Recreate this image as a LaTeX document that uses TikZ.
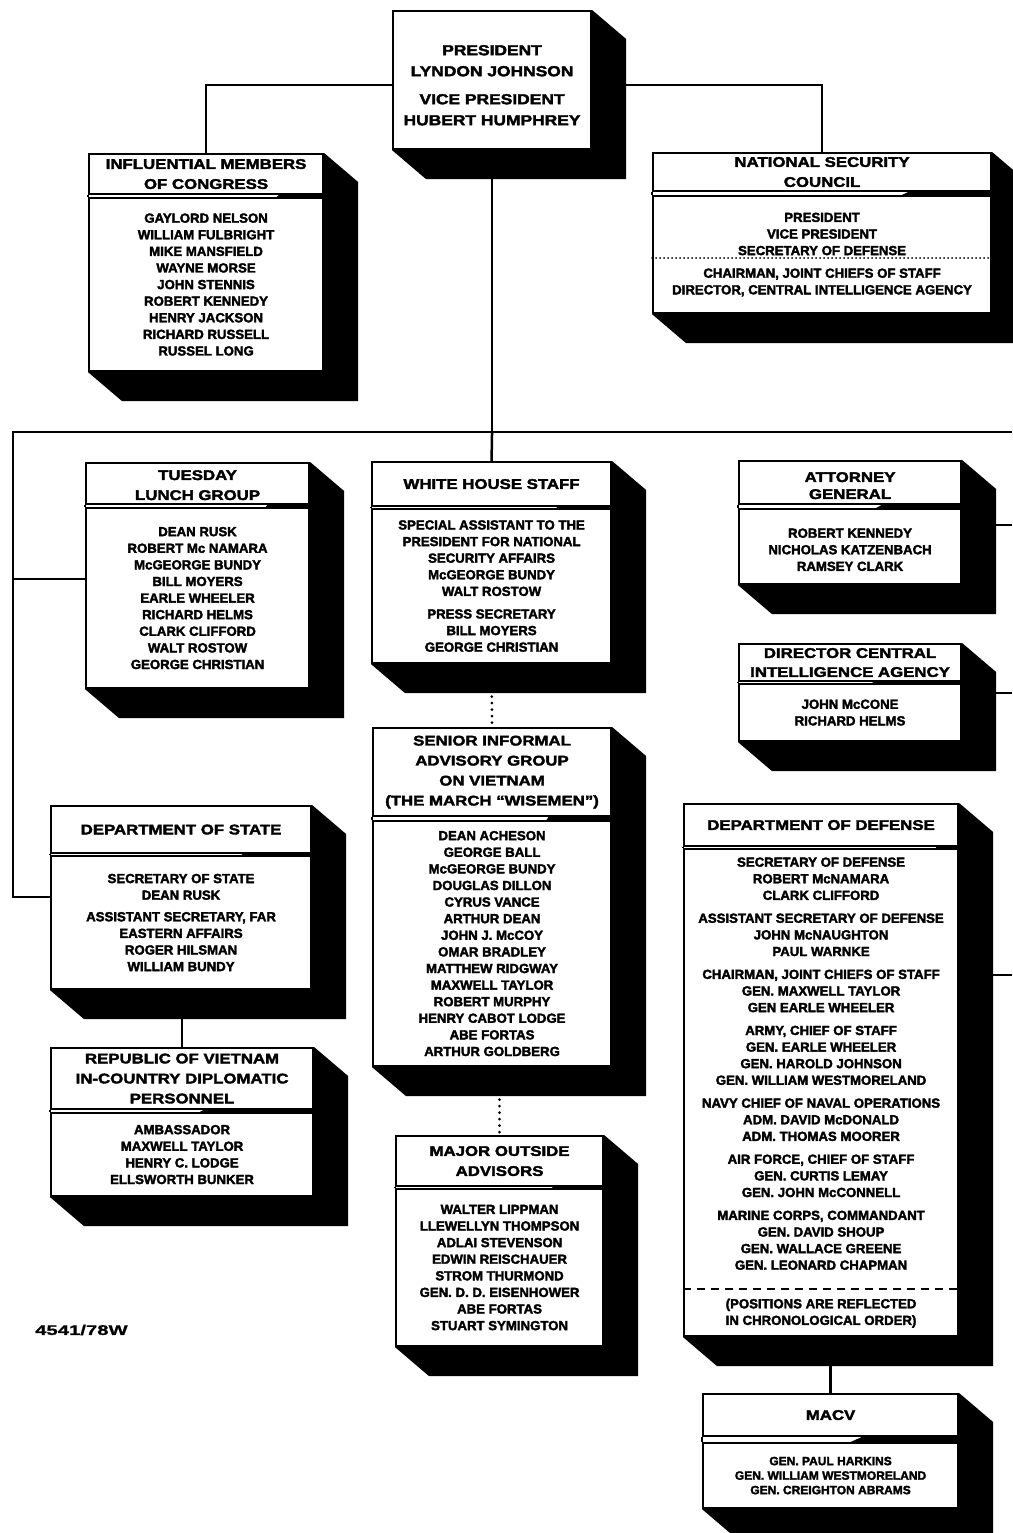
\documentclass[tikz,border=0pt]{standalone}
\usepackage{fontspec}
\setmainfont{Liberation Sans}
\newfontfamily\hdrfont{Liberation Sans}[FakeStretch=1.2,FakeBold=2.5]
\newfontfamily\bodyfont{Liberation Sans}[FakeBold=2.5]
\newfontfamily\notefont{Liberation Sans}[FakeStretch=1.45,FakeBold=1]
\newcommand\topgap[1]{\mbox{}\\[#1]}
\usetikzlibrary{calc}
\pgfdeclarelayer{bgfill}\pgfdeclarelayer{conn}\pgfdeclarelayer{shad}
\pgfsetlayers{bgfill,conn,shad,main}
\newcommand\shdx{34}
\newcommand\shdy{29}
\tikzset{
  frame/.style={line width=2.1pt},
  frontbox/.style={draw, frame, fill=white, inner sep=0pt, anchor=north west, align=center},
  hdrbox/.style={frontbox, font=\hdrfont\bfseries\fontsize{14}{20}\selectfont},
  bodyextra/.style={},
  bodybox/.style={frontbox, font=\bodyfont\bfseries\fontsize{13.2}{16.6}\selectfont, bodyextra},
  presbox/.style={frontbox, font=\hdrfont\bfseries\fontsize{14.5}{21}\selectfont},
  link/.style={line width=2.5pt},
  dotlink/.style={line width=3pt, dash pattern=on 0pt off 6.5pt, line cap=round},
  nscdots/.style={line width=2pt, dash pattern=on 0pt off 4pt, line cap=round},
  dodashes/.style={line width=2pt, dash pattern=on 8pt off 6pt},
  notetext/.style={font=\notefont\bfseries\fontsize{14}{16}\selectfont, inner sep=0pt},
}
% #1 name, #2 left, #3 top, #4 header bottom, #5 body top, #6 bottom, #7 right, #8 header, #9 body
\newcommand\orgbox[9]{%
  \node[hdrbox, minimum width={#7-#2}, minimum height={#4-#3}] (#1H) at (#2,#3) {#8};
  \node[bodybox, minimum width={#7-#2}, minimum height={#6-#5}] (#1B) at (#2,#5) {#9};
  \draw[frame] (#1H.south west) -- (#1B.north west) (#1H.south east) -- (#1B.north east);
  \begin{pgfonlayer}{shad}
    \fill (#1H.north east) -- ++(\shdx,\shdy) -- ($(#1B.south east)+(\shdx,\shdy)$)
      -- ($(#1B.south west)+(\shdx,\shdy)$) -- (#1B.south west) -- cycle;
  \end{pgfonlayer}}
\begin{document}
\begin{tikzpicture}[x=1pt,y=-1pt]
\useasboundingbox (0,0) rectangle (1012,1533);
\begin{pgfonlayer}{bgfill}
  \fill[white] (0,0) rectangle (1012,1533);
\end{pgfonlayer}

% President
\node[presbox, minimum width=198, minimum height=138] (pres) at (392,10)
  {\topgap{-0.5pt}PRESIDENT\\LYNDON JOHNSON\\[7pt]VICE PRESIDENT\\HUBERT HUMPHREY};
\begin{pgfonlayer}{shad}
  \fill (pres.north east) -- ++(\shdx,\shdy) -- ($(pres.south east)+(\shdx,\shdy)$)
    -- ($(pres.south west)+(\shdx,\shdy)$) -- (pres.south west) -- cycle;
\end{pgfonlayer}

\orgbox{cong}{88}{153}{193}{197}{370}{322}
  {INFLUENTIAL MEMBERS\\OF CONGRESS}
  {GAYLORD NELSON\\WILLIAM FULBRIGHT\\MIKE MANSFIELD\\WAYNE MORSE\\JOHN STENNIS\\ROBERT KENNEDY\\HENRY JACKSON\\RICHARD RUSSELL\\RUSSEL LONG}

\orgbox{nsc}{652}{152}{190}{195}{312}{990}
  {NATIONAL SECURITY\\COUNCIL}
  {PRESIDENT\\VICE PRESIDENT\\SECRETARY OF DEFENSE\\[6pt]CHAIRMAN, JOINT CHIEFS OF STAFF\\DIRECTOR, CENTRAL INTELLIGENCE AGENCY}
\draw[nscdots] ($(nscB.north west)+(0,63)$) -- ($(nscB.north east)+(0,63)$);

\orgbox{tue}{85}{462}{503}{507}{687}{308}
  {\topgap{-7pt}TUESDAY\\LUNCH GROUP}
  {DEAN RUSK\\ROBERT Mc NAMARA\\McGEORGE BUNDY\\BILL MOYERS\\EARLE WHEELER\\RICHARD HELMS\\CLARK CLIFFORD\\WALT ROSTOW\\GEORGE CHRISTIAN}

\orgbox{whs}{371}{461}{505}{508}{662}{610}
  {WHITE HOUSE STAFF}
  {SPECIAL ASSISTANT TO THE\\PRESIDENT FOR NATIONAL\\SECURITY AFFAIRS\\McGEORGE BUNDY\\WALT ROSTOW\\[6pt]PRESS SECRETARY\\BILL MOYERS\\GEORGE CHRISTIAN}

\orgbox{ag}{738}{460}{503}{508}{583}{960}
  {\topgap{-4pt}ATTORNEY\\[-3pt]GENERAL}
  {\topgap{-1pt}ROBERT KENNEDY\\NICHOLAS KATZENBACH\\RAMSEY CLARK}

\orgbox{cia}{738}{643}{680}{683}{740}{960}
  {DIRECTOR CENTRAL\\[-1pt]INTELLIGENCE AGENCY}
  {JOHN McCONE\\RICHARD HELMS}

\orgbox{sen}{372}{727}{815}{820}{1065}{610}
  {SENIOR INFORMAL\\ADVISORY GROUP\\ON VIETNAM\\(THE MARCH “WISEMEN”)}
  {DEAN ACHESON\\GEORGE BALL\\McGEORGE BUNDY\\DOUGLAS DILLON\\CYRUS VANCE\\ARTHUR DEAN\\JOHN J. McCOY\\OMAR BRADLEY\\MATTHEW RIDGWAY\\MAXWELL TAYLOR\\ROBERT MURPHY\\HENRY CABOT LODGE\\ABE FORTAS\\ARTHUR GOLDBERG}

\orgbox{dos}{50}{805}{852}{855}{988}{310}
  {DEPARTMENT OF STATE}
  {SECRETARY OF STATE\\DEAN RUSK\\[5pt]ASSISTANT SECRETARY, FAR\\EASTERN AFFAIRS\\ROGER HILSMAN\\WILLIAM BUNDY}

\orgbox{dod}{683}{803}{845}{848}{1335}{957}
  {DEPARTMENT OF DEFENSE}
  {SECRETARY OF DEFENSE\\ROBERT McNAMARA\\CLARK CLIFFORD\\[6.3pt]%
   ASSISTANT SECRETARY OF DEFENSE\\JOHN McNAUGHTON\\PAUL WARNKE\\[6.3pt]%
   CHAIRMAN, JOINT CHIEFS OF STAFF\\GEN. MAXWELL TAYLOR\\GEN EARLE WHEELER\\[6.3pt]%
   ARMY, CHIEF OF STAFF\\GEN. EARLE WHEELER\\GEN. HAROLD JOHNSON\\GEN. WILLIAM WESTMORELAND\\[6.3pt]%
   NAVY CHIEF OF NAVAL OPERATIONS\\ADM. DAVID McDONALD\\ADM. THOMAS MOORER\\[6.3pt]%
   AIR FORCE, CHIEF OF STAFF\\GEN. CURTIS LEMAY\\GEN. JOHN McCONNELL\\[6.3pt]%
   MARINE CORPS, COMMANDANT\\GEN. DAVID SHOUP\\GEN. WALLACE GREENE\\GEN. LEONARD CHAPMAN\\[22pt]%
   (POSITIONS ARE REFLECTED\\IN CHRONOLOGICAL ORDER)}
\draw[dodashes] ($(dodB.south west)+(0,-48)$) -- ($(dodB.south east)+(0,-48)$);

\orgbox{rvn}{50}{1047}{1108}{1112}{1195}{312}
  {REPUBLIC OF VIETNAM\\IN-COUNTRY DIPLOMATIC\\PERSONNEL}
  {AMBASSADOR\\MAXWELL TAYLOR\\HENRY C. LODGE\\ELLSWORTH BUNKER}

\orgbox{maj}{395}{1135}{1185}{1188}{1345}{602}
  {MAJOR OUTSIDE\\ADVISORS}
  {WALTER LIPPMAN\\LLEWELLYN THOMPSON\\ADLAI STEVENSON\\EDWIN REISCHAUER\\STROM THURMOND\\GEN. D. D. EISENHOWER\\ABE FORTAS\\STUART SYMINGTON}

\tikzset{bodyextra/.style={font=\bodyfont\bfseries\fontsize{12}{14.5}\selectfont}}
\orgbox{mac}{702}{1393}{1435}{1442}{1507}{957}
  {MACV}
  {GEN. PAUL HARKINS\\GEN. WILLIAM WESTMORELAND\\GEN. CREIGHTON ABRAMS}

\node[notetext, anchor=west] (note) at (35,1330) {4541/78W};

% connectors
\coordinate (busL) at (13,432);
\coordinate (busR) at (1012,432);
\coordinate (busM) at (pres.south |- busL);
\coordinate (agOut) at (1012,525);
\coordinate (ciaOut) at (1012,693);
\coordinate (dodOut) at (1012,975);
\coordinate (tueIn) at ($(tueB.north west)+(0,72)$);
\coordinate (dosIn) at ($(dosB.north west)+(0,42)$);
\begin{pgfonlayer}{conn}
  \draw[link] ($(pres.north west)+(0,75)$) -| (congH.north);
  \draw[link] ($(pres.north east)+(0,75)$) -| (nscH.north);
  \draw[link] (pres.south) -- (busM);
  \draw[link] (busR) -- (busL) |- (dosIn);
  \draw[link] (busL |- tueIn) -- (tueIn);
  \draw[link] (busM) -- (whsH.north);
  \draw[dotlink] (whsB.south) -- (senH.north);
  \draw[dotlink] (senB.south -| majH.north) -- (majH.north);
  \draw[link] (agOut -| agB.east) -- (agOut);
  \draw[link] (ciaOut -| ciaB.east) -- (ciaOut);
  \draw[link] (dodOut -| dodB.east) -- (dodOut);
  \draw[link] (dodB.south -| macH.north) -- (macH.north);
  \draw[link] (dosB.south -| rvnH.north) -- (rvnH.north);
\end{pgfonlayer}
\end{tikzpicture}
\end{document}
